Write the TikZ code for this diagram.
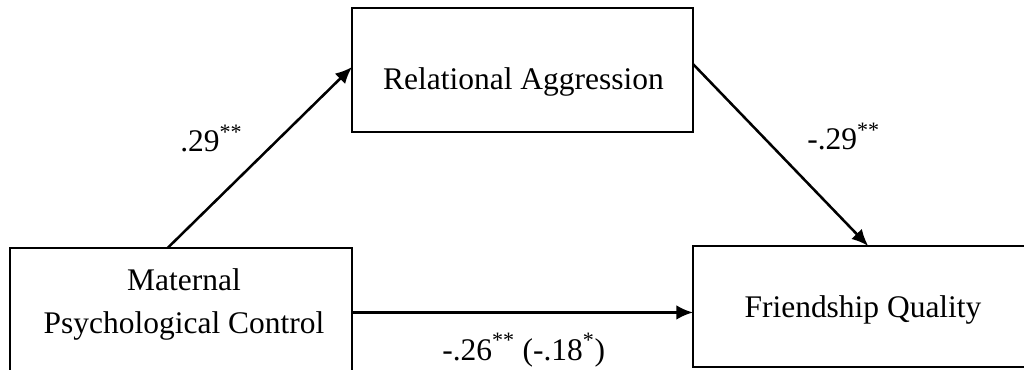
\documentclass[tikz,border=0pt]{standalone}
\usepackage{fontspec}
\setmainfont{Liberation Serif}
\usetikzlibrary{arrows.meta}
\newcommand{\bigfont}{\fontsize{23.6}{28}\selectfont}
\begin{document}
\begin{tikzpicture}[x=0.75pt,y=-0.75pt,
  box/.style={draw,line width=1.5pt,inner sep=0pt,outer sep=0pt},
  arr/.style={line width=1.9pt,-{Latex[length=12.5pt,width=11pt]}},
  lbl/.style={font=\bigfont,inner sep=0pt,anchor=base west},
  txt/.style={font=\bigfont,inner sep=0pt,anchor=base}]
\useasboundingbox (0,0) rectangle (1024,370);
\clip (0,0) rectangle (1024,370);
% boxes
\node[box,minimum width=255.75pt,minimum height=93pt] (ra) at (522.5,70) {};
\node[box,minimum width=256.5pt,minimum height=94.5pt] (mpc) at (181,311) {};
\node[box,minimum width=256.5pt,minimum height=90.75pt] (fq) at (864,306.5) {};
% box texts
\node[txt] (raT) at (523.5,90) {Relational Aggression};
\node[txt] (mpcT1) at (184,291) {Maternal};
\node[txt] (mpcT2) at (184,333) {Psychological Control};
\node[txt] (fqT) at (863,317) {Friendship Quality};
% connectors
\draw[arr] (mpc.102.5) -- (ra.179);
\draw[arr] (ra.2.7) -- (fq.86.2);
\draw[arr] (fq.182.2 -| mpc.east) -- (fq.182.2);
% labels
\node[lbl] (a) at (180,152) {.29\textsuperscript{**}};
\node[lbl] (b) at (807,150) {-.29\textsuperscript{**}};
\node[lbl] (c) at (442,360) {-.26\textsuperscript{**} (-.18\textsuperscript{*})};
\end{tikzpicture}
\end{document}
